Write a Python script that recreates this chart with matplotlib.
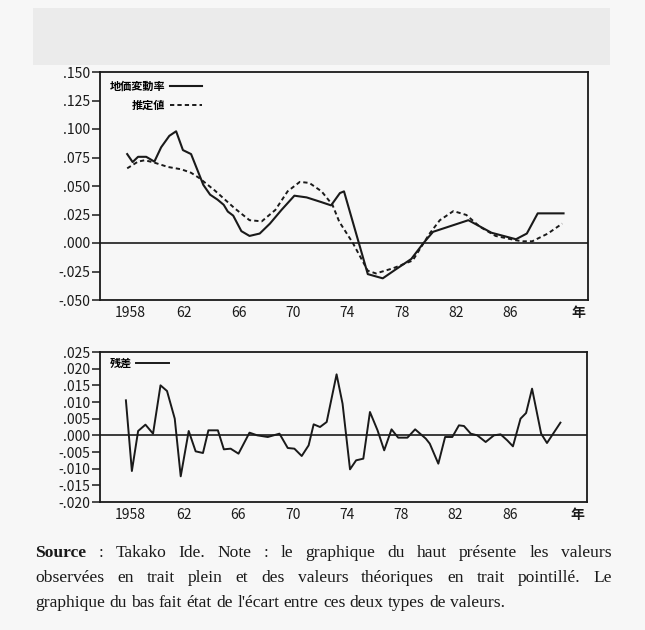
import matplotlib
matplotlib.use('Agg')
import matplotlib.pyplot as plt
from matplotlib.patches import Rectangle
from matplotlib.ticker import FixedLocator, FuncFormatter

# --- data ---
# 地価変動率 (observed, solid)
obs_years = [1957.8, 1958.2, 1958.6, 1959.2, 1959.8, 1960.3, 1960.9, 1961.4, 1961.9,
             1962.5, 1962.9, 1963.4, 1963.9, 1964.45, 1964.9, 1965.2, 1965.6, 1966.2,
             1966.8, 1967.55, 1968.3, 1969.15, 1970.1, 1971.0, 1972.1, 1972.8, 1973.45,
             1973.75, 1975.5, 1976.6, 1977.6, 1978.7, 1979.6, 1980.3, 1982.9, 1984.6,
             1986.4, 1987.2, 1988.0, 1989.9]
obs_vals = [0.078, 0.071, 0.0756, 0.0756, 0.0714, 0.084, 0.094, 0.098, 0.0815,
            0.078, 0.066, 0.051, 0.0424, 0.038, 0.0335, 0.0276, 0.024, 0.0104,
            0.0062, 0.0083, 0.017, 0.029, 0.0415, 0.040, 0.0358, 0.033, 0.0438,
            0.0453, -0.0273, -0.031, -0.0228, -0.014, 0.0, 0.0098, 0.020, 0.009,
            0.0033, 0.0083, 0.026, 0.026]

# 推定値 (estimated, dotted)
est_years = [1957.8, 1958.6, 1959.1, 1959.8, 1960.8, 1961.8, 1962.5, 1963.1, 1964.25,
             1965.7, 1966.8, 1967.7, 1968.7, 1969.6, 1970.5, 1971.2, 1972.1, 1972.9,
             1973.4, 1974.4, 1975.5, 1976.1, 1977.35, 1978.8, 1980.05, 1980.8, 1981.8,
             1982.75, 1983.75, 1984.9, 1986.4, 1986.9, 1987.6, 1988.75, 1989.8]
est_vals = [0.0655, 0.0714, 0.0726, 0.0705, 0.0667, 0.0646, 0.0616, 0.057, 0.046,
            0.0305, 0.020, 0.019, 0.029, 0.0453, 0.0536, 0.0527, 0.0453, 0.0335,
            0.0187, 0.0, -0.0243, -0.0267, -0.0222, -0.0154, 0.0083, 0.020, 0.028,
            0.0246, 0.0142, 0.0062, 0.0024, 0.0015, 0.0015, 0.0083, 0.017]

# 残差 (residual)
res_years = [1957.71, 1958.15, 1958.61, 1959.15, 1959.71, 1960.26, 1960.74, 1961.31,
             1961.75, 1962.34, 1962.85, 1963.39, 1963.79, 1964.49, 1964.93, 1965.43,
             1966.01, 1966.82, 1967.39, 1968.17, 1969.03, 1969.64, 1970.13, 1970.67,
             1971.18, 1971.55, 1972.02, 1972.51, 1973.24, 1973.68, 1974.23, 1974.68,
             1975.21, 1975.7, 1976.26, 1976.75, 1977.29, 1977.78, 1978.46, 1979.03,
             1979.82, 1980.11, 1980.74, 1981.24, 1981.77, 1982.26, 1982.63, 1983.13,
             1983.61, 1984.23, 1984.84, 1985.33, 1985.82, 1986.24, 1986.8, 1987.21,
             1987.65, 1988.32, 1988.75, 1989.74]
res_vals = [0.0105, -0.0107, 0.0013, 0.0032, 0.0005, 0.015, 0.0133, 0.005,
            -0.0123, 0.0013, -0.0048, -0.0053, 0.0015, 0.0015, -0.0042, -0.004,
            -0.0055, 0.0008, 0.0, -0.0005, 0.0005, -0.0038, -0.004, -0.0062,
            -0.003, 0.0033, 0.0025, 0.004, 0.0183, 0.0095, -0.0102, -0.0075,
            -0.007, 0.007, 0.0015, -0.0045, 0.0018, -0.0007, -0.0007, 0.0018,
            -0.001, -0.0025, -0.0085, -0.0005, -0.0005, 0.003, 0.0028, 0.0005,
            0.0, -0.002, 0.0, 0.0003, -0.0015, -0.0033, 0.005, 0.0067,
            0.014, 0.0005, -0.0023, 0.0038]

xtick_pos = [1958, 1962, 1966, 1970, 1974, 1978, 1982, 1986, 1991]
xtick_lab = ['1958', '62', '66', '70', '74', '78', '82', '86', '年']
top_yticks = [-0.05, -0.025, 0.0, 0.025, 0.05, 0.075, 0.1, 0.125, 0.15]
bot_yticks = [-0.02, -0.015, -0.01, -0.005, 0.0, 0.005, 0.01, 0.015, 0.02, 0.025]

caption = [
    [('Source', 'bold'), (':', 'normal'), ('Takako', 'normal'), ('Ide.', 'normal'),
     ('Note', 'normal'), (':', 'normal'), ('le', 'normal'), ('graphique', 'normal'),
     ('du', 'normal'), ('haut', 'normal'), ('présente', 'normal'), ('les', 'normal'),
     ('valeurs', 'normal')],
    [(w, 'normal') for w in 'observées en trait plein et des valeurs théoriques en trait pointillé. Le'.split()],
    [(w, 'normal') for w in "graphique du bas fait état de l'écart entre ces deux types de valeurs.".split()],
]

tick_font = ['Liberation Sans Narrow', 'Noto Sans CJK JP', 'DejaVu Sans']
cjk_font = ['Noto Sans CJK JP', 'DejaVu Sans']
ink = '#1a1a1a'

fig = plt.figure(figsize=(6.45, 6.3), dpi=100)
fig.patch.set_facecolor('#f7f7f7')
fig.patches.append(Rectangle((33 / 645, 1 - 65 / 630), 577 / 645, 57 / 630,
                             transform=fig.transFigure, facecolor='#ebebeb',
                             edgecolor='none'))

ax1 = fig.add_axes([100 / 645, 1 - 300 / 630, 488 / 645, 228 / 630])
ax2 = fig.add_axes([100 / 645, 1 - 502 / 630, 487 / 645, 150 / 630])


def fmt(v, pos):
    s = f'{v:.3f}'.replace('0.', '.')
    return s


for ax, yt, lim in [(ax1, top_yticks, (-0.05, 0.15)), (ax2, bot_yticks, (-0.02, 0.025))]:
    ax.set_facecolor('none')
    ax.set_xlim(1955.8, 1991.7)
    ax.set_ylim(*lim)
    ax.yaxis.set_major_locator(FixedLocator(yt))
    ax.yaxis.set_major_formatter(FuncFormatter(fmt))
    ax.set_xticks(xtick_pos)
    ax.set_xticklabels(xtick_lab)
    ax.tick_params(axis='y', direction='out', length=6, width=1.1, pad=1,
                   labelsize=10, colors=ink)
    ax.tick_params(axis='x', length=0, pad=4, labelsize=10, colors=ink)
    for lab in ax.get_xticklabels() + ax.get_yticklabels():
        lab.set_family(tick_font)
    ax.get_xticklabels()[-1].set_fontweight('bold')
    for sp in ax.spines.values():
        sp.set_linewidth(1.3)
        sp.set_color(ink)
    ax.axhline(0, color=ink, lw=1.2)

ax1.plot(obs_years, obs_vals, color=ink, lw=1.5, label='地価変動率')
ax1.plot(est_years, est_vals, color=ink, lw=1.4, linestyle=(0, (2.2, 1.6)), label='推定値')
ax2.plot(res_years, res_vals, color=ink, lw=1.4, label='残差')

for ax, anchor in [(ax1, (0.02, 0.965)), (ax2, (0.02, 0.965))]:
    ax.legend(loc='upper left', bbox_to_anchor=anchor, frameon=False, markerfirst=False,
              prop={'family': cjk_font, 'size': 8, 'weight': 'bold'},
              handlelength=2.9, handletextpad=0.4, labelspacing=0.55,
              borderpad=0, borderaxespad=0)

# caption, justified like the printed page
renderer = fig.canvas.get_renderer()
x0, x1 = 35 / 645, 612 / 645
line_y = [1 - 557 / 630, 1 - 582 / 630, 1 - 607 / 630]
for i, (words, y) in enumerate(zip(caption, line_y)):
    texts = [fig.text(x0, y, w, fontsize=12.6, fontweight=wt, family='Liberation Serif',
                      color=ink, va='baseline') for w, wt in words]
    widths = [t.get_window_extent(renderer).width / fig.bbox.width for t in texts]
    space = 0.0068
    if i < len(caption) - 1:
        space = (x1 - x0 - sum(widths)) / (len(texts) - 1)
    x = x0
    for t, w in zip(texts, widths):
        t.set_x(x)
        x += w + space

fig.savefig('out.png', dpi=100, facecolor=fig.get_facecolor())
